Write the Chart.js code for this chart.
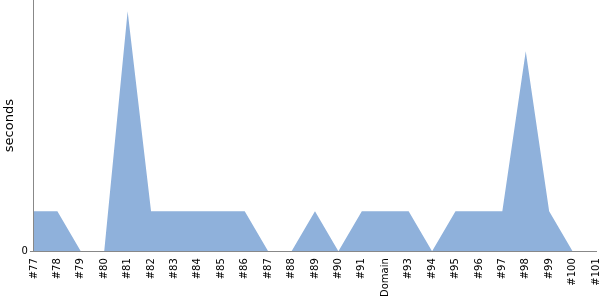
<!DOCTYPE html>
<html>
<head>
<meta charset="utf-8">
<script src="https://cdn.jsdelivr.net/npm/chart.js@4/dist/chart.umd.min.js"></script>
<style>
  html, body { margin: 0; padding: 0; background: #fff; }
  #wrap { width: 600px; height: 300px; }
</style>
</head>
<body>
<div id="wrap"><canvas id="chart"></canvas></div>
<script>
// Etiquetas del eje X (builds)
var labels = ['#77', '#78', '#79', '#80', '#81', '#82', '#83', '#84', '#85', '#86',
              '#87', '#88', '#89', '#90', '#91', 'Domain', '#93', '#94', '#95', '#96',
              '#97', '#98', '#99', '#100', '#101'];

// Duración en segundos
var seconds = [1, 1, 0, 0, 6, 1, 1, 1, 1, 1,
               0, 0, 1, 0, 1, 1, 1, 0, 1, 1,
               1, 5, 1, 0, 0];

var yTicks = [0];

Chart.defaults.font.family = 'DejaVu Sans';
Chart.defaults.color = '#000';

var ctx = document.getElementById('chart');
new Chart(ctx, {
    type: 'line',
    data: {
        labels: labels,
        datasets: [{
            label: 'seconds',
            data: seconds,
            fill: 'origin',
            backgroundColor: '#8fb1db',
            borderWidth: 0,
            pointRadius: 0,
            tension: 0
        }]
    },
    options: {
        responsive: true,
        maintainAspectRatio: false,
        animation: false,
        layout: { padding: { top: 0, right: 4, left: 0, bottom: 0 } },
        plugins: {
            legend: { display: false },
            tooltip: { enabled: false }
        },
        scales: {
            x: {
                offset: false,
                grid: { display: false },
                border: { color: '#888', width: 1 },
                afterFit: function (scale) {
                    scale.paddingLeft = 0;
                    scale.paddingRight = 0;
                    scale.height += 4;
                },
                ticks: {
                    autoSkip: false,
                    minRotation: 90,
                    maxRotation: 90,
                    padding: -1,
                    font: { size: 10 }
                }
            },
            y: {
                min: 0,
                max: 6.28,
                afterBuildTicks: function (axis) {
                    axis.ticks = yTicks.map(function (v) { return { value: v }; });
                },
                afterFit: function (scale) {
                    scale.paddingTop = 0;
                    scale.paddingBottom = 0;
                },
                grid: { drawOnChartArea: false, drawTicks: true, tickLength: 4, color: '#888' },
                border: { color: '#888', width: 1 },
                ticks: { padding: 2, font: { size: 10 } },
                title: { display: true, text: 'seconds', font: { size: 13 }, padding: 2 }
            }
        }
    }
});
</script>
</body>
</html>
